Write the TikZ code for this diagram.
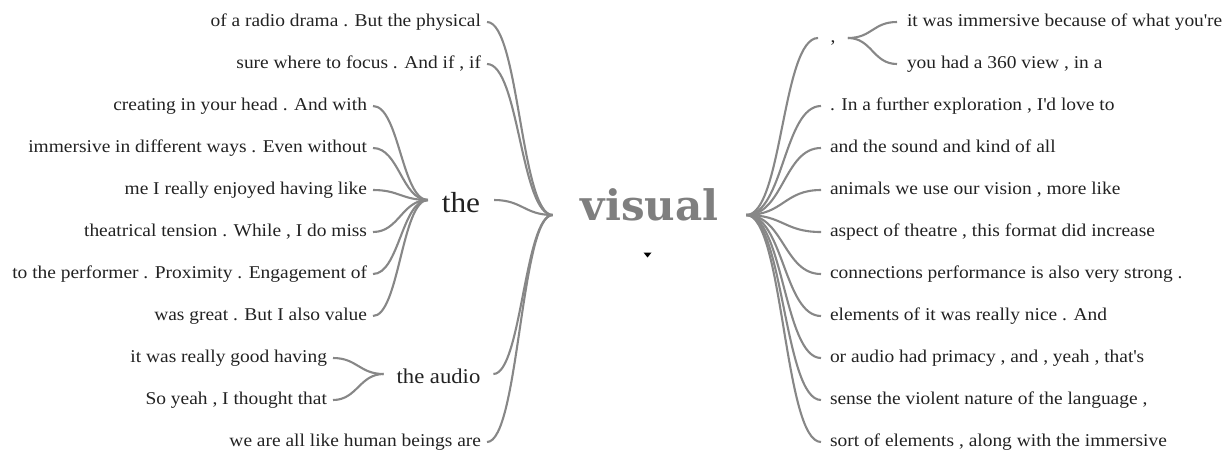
\documentclass[tikz,border=0pt]{standalone}
\usepackage{fontspec}
\setmainfont[FakeStretch=1.08]{Liberation Serif}
\newfontfamily\visfont{DejaVu Serif}
\definecolor{linkgray}{HTML}{878787}
\definecolor{txtgray}{HTML}{222222}
\definecolor{visgray}{HTML}{7F7F7F}
\newcommand\lnk[3]{\draw[link] (#1) .. controls +(#3,0) and +(-#3,0) .. (#2);}
\newcommand\apo{\textquotesingle}
\tikzset{
  link/.style={draw=linkgray, line width=2.1pt},
  leaf/.style={font=\fontsize{18}{21}\selectfont, text=txtgray, inner sep=0pt, text height=8pt, text depth=0pt},
  lleaf/.style={leaf, anchor=east, outer xsep=6pt},
  rleaf/.style={leaf, anchor=west, outer xsep=9pt},
  mid/.style={text=txtgray, inner sep=0pt, text depth=0pt},
}
\begin{document}
\begin{tikzpicture}[x=1pt, y=-1pt]
\useasboundingbox (0,0) rectangle (1230,453);
% root
\node[inner sep=0pt, text height=10pt, text depth=0pt, outer xsep=28pt, text=visgray,
      font=\visfont\bfseries\fontsize{42}{44}\selectfont] (vis) at (649.5,215) {visual};
\fill[black] (643.5,252.5) -- (651.5,252.5) -- (647.5,257.5) -- cycle;
% left intermediate nodes
\node[mid, font=\fontsize{29}{32}\selectfont, text height=24pt, outer xsep=14pt] (the) at (461,200) {the};
\node[mid, font=\fontsize{21}{24}\selectfont, text height=18pt, outer xsep=13pt] (aud) at (438.5,374) {the audio};
% left leaves of visual
\node[lleaf] (l1) at (487,22) {of a radio drama . But the physical};
\node[lleaf] (l2) at (487,64) {sure where to focus . And if , if};
\node[lleaf] (l11) at (487,442) {we are all like human beings are};
% leaves of "the"
\node[lleaf] (t1) at (373,106) {creating in your head . And with};
\node[lleaf] (t2) at (373,148) {immersive in different ways . Even without};
\node[lleaf] (t3) at (373,190) {me I really enjoyed having like};
\node[lleaf] (t4) at (373,232) {theatrical tension . While , I do miss};
\node[lleaf] (t5) at (373,274) {to the performer . Proximity . Engagement of};
\node[lleaf] (t6) at (373,316) {was great . But I also value};
% leaves of "the audio"
\node[lleaf] (a1) at (333,358) {it was really good having};
\node[lleaf] (a2) at (333,400) {So yeah , I thought that};
% right side
\node[mid, font=\fontsize{18}{21}\selectfont, text height=8pt, outer xsep=12.5pt] (com) at (833,38) {,};
\node[rleaf, outer xsep=10pt] (c1) at (897,22) {it was immersive because of what you\apo re};
\node[rleaf, outer xsep=10pt] (c2) at (897,64) {you had a 360 view , in a};
\node[rleaf] (r3) at (821,106) {. In a further exploration , I\apo d love to};
\node[rleaf] (r4) at (821,148) {and the sound and kind of all};
\node[rleaf] (r5) at (821,190) {animals we use our vision , more like};
\node[rleaf] (r6) at (821,232) {aspect of theatre , this format did increase};
\node[rleaf] (r7) at (821,274) {connections performance is also very strong .};
\node[rleaf] (r8) at (821,316) {elements of it was really nice . And};
\node[rleaf] (r9) at (821,358) {or audio had primacy , and , yeah , that\apo s};
\node[rleaf] (r10) at (821,400) {sense the violent nature of the language ,};
\node[rleaf] (r11) at (821,442) {sort of elements , along with the immersive};
% connectors left
\lnk{l1.east}{vis.west}{32}
\lnk{l2.east}{vis.west}{32}
\lnk{the.east}{vis.west}{28}
\lnk{aud.east}{vis.west}{28}
\lnk{l11.east}{vis.west}{32}
\foreach \n in {t1,t2,t3,t4,t5,t6}{\lnk{\n.east}{the.west}{26}}
\foreach \n in {a1,a2}{\lnk{\n.east}{aud.west}{24}}
% connectors right
\lnk{vis.east}{com.west}{36}
\foreach \n in {r3,r4,r5,r6,r7,r8,r9,r10,r11}{\lnk{vis.east}{\n.west}{37}}
\lnk{com.east}{c1.west}{24}
\lnk{com.east}{c2.west}{24}
\end{tikzpicture}
\end{document}
